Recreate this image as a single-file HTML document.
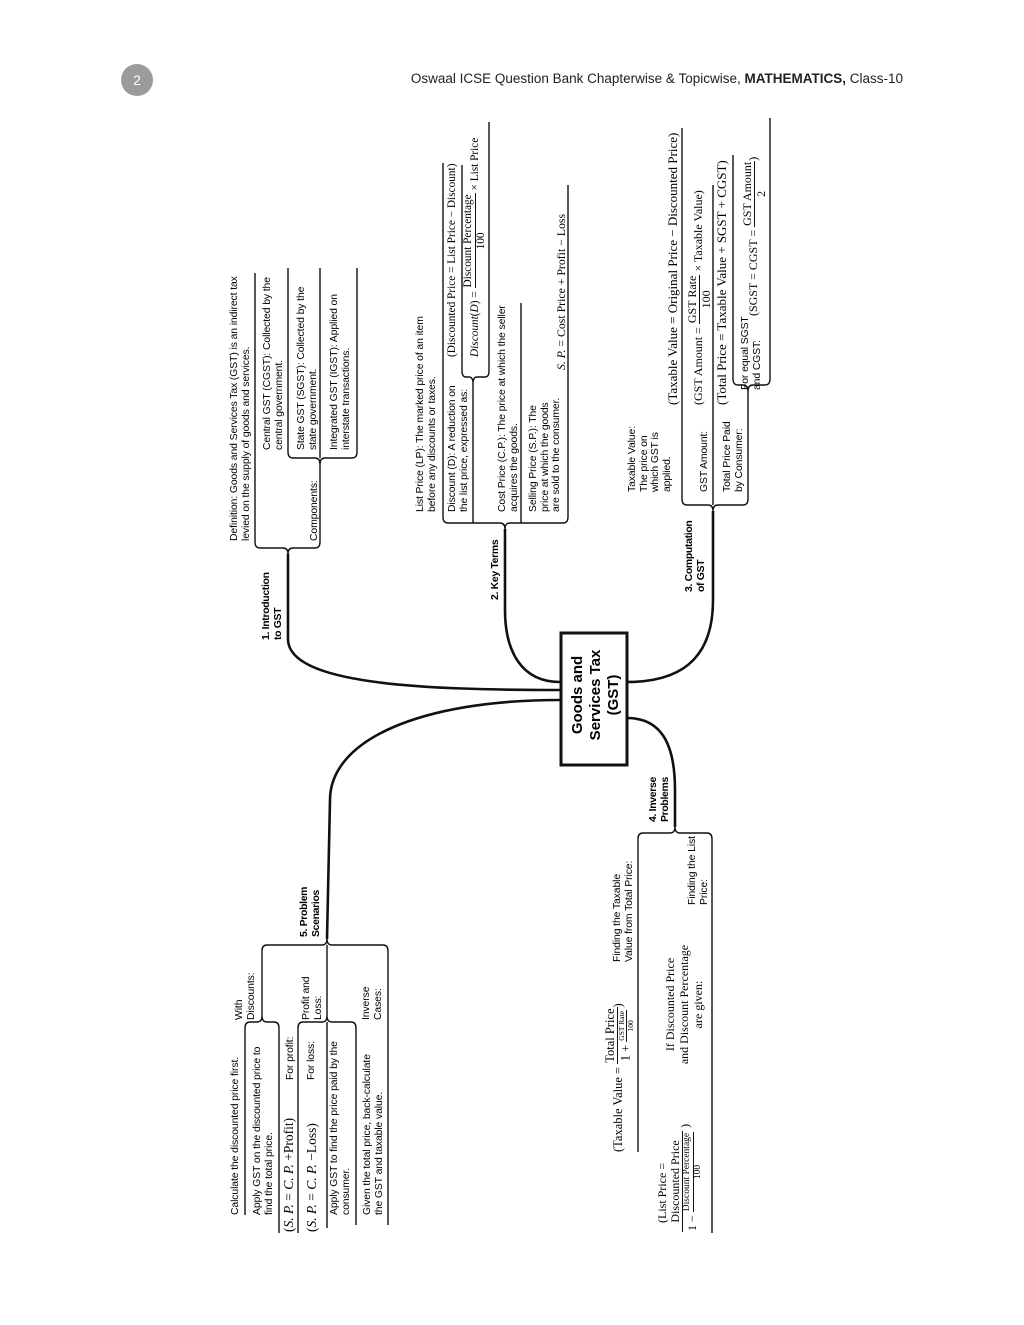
<!DOCTYPE html>
<html><head><meta charset="utf-8"><style>
body{margin:0;background:#fff;}
#pg{position:relative;width:1024px;height:1325px;overflow:hidden;background:#fff;font-family:"Liberation Sans",sans-serif;color:#000;}
.r{position:absolute;transform-origin:0 0;transform:rotate(-90deg);white-space:nowrap;font-size:10.4px;line-height:11.5px;letter-spacing:-0.1px;}
.b{font-weight:bold;font-size:10.4px;line-height:11.5px;letter-spacing:-0.3px;}
.s{font-family:"Liberation Serif",serif;letter-spacing:0;}
.fr{display:inline-block;vertical-align:middle;text-align:center;line-height:1.05;}
.fr>span{display:block;padding:0 1px;}
.fr>.n{border-bottom:1px solid #111;}
i{font-style:italic;}
</style></head><body><div id="pg">
<div style="position:absolute;left:121px;top:64px;width:32px;height:32px;border-radius:50%;background:#9b9b9b;color:#fff;font-size:14px;line-height:32px;text-align:center;">2</div>
<div style="position:absolute;right:121px;top:71px;font-size:13.5px;color:#222;white-space:nowrap;">Oswaal ICSE Question Bank Chapterwise &amp; Topicwise, <b>MATHEMATICS,</b> Class-10</div>

<svg width="1024" height="1325" style="position:absolute;left:0;top:0" fill="none" stroke="#111">
<g stroke-width="2.6">
<path d="M560,690 C420,690 290,684 288,640 L288,554"/>
<path d="M560,682 C522,682 505,652 505,610 L505,529"/>
<path d="M627,682 C690,682 713,650 713,600 L713,511"/>
<path d="M627,718 C660,718 675,742 675,790 L675,827"/>
<path d="M560,700 C420,700 330,740 330,800 L327,939"/>
</g>
<rect x="561" y="633" width="66" height="132" stroke-width="3"/>
<g stroke-width="1.4">
<path d="M255,542 Q255,548 260,548 L283,548 Q288,548 288,554 Q288,548 293,548 L315,548 Q320,548 320,542"/>
<path d="M255,542V273 M320,542V464"/>
<path d="M288,452 Q288,458 293,458 L315,458 Q320,458 320,464 Q320,458 325,458 L352,458 Q357,458 357,452"/>
<path d="M288,452V268 M320,458V268 M357,452V268"/>
<path d="M443,517 Q443,523 448,523 L500,523 Q505,523 505,529 Q505,523 510,523 L563,523 Q568,523 568,517"/>
<path d="M443,517V163 M473,523V383 M521,523V303 M568,517V185"/>
<path d="M462,371 Q462,377 466,377 L469,377 Q473,377 473,383 Q473,377 477,377 L485,377 Q489,377 489,371"/>
<path d="M462,371V165 M489,371V122"/>
<path d="M682,499 Q682,505 687,505 L708,505 Q713,505 713,511 Q713,505 718,505 L743,505 Q748,505 748,499"/>
<path d="M682,499V128 M713,505V185 M748,499V391"/>
<path d="M733,379 Q733,385 738,385 L743,385 Q748,385 748,391 Q748,385 753,385 L765,385 Q770,385 770,379"/>
<path d="M733,379V155 M770,379V118"/>
<path d="M638,839 Q638,833 643,833 L670,833 Q675,833 675,827 Q675,833 680,833 L707,833 Q712,833 712,839"/>
<path d="M638,839V1152 M712,839V1233"/>
<path d="M262,951 Q262,945 267,945 L322,945 Q327,945 327,939 Q327,945 332,945 L383,945 Q388,945 388,951"/>
<path d="M262,951V1016 M327,945V1016 M388,951V1225"/>
<path d="M245,1028 Q245,1022 250,1022 L257,1022 Q262,1022 262,1016 Q262,1022 267,1022 L274,1022 Q279,1022 279,1028"/>
<path d="M245,1028V1215 M279,1028V1233"/>
<path d="M298,1028 Q298,1022 303,1022 L322,1022 Q327,1022 327,1016 Q327,1022 332,1022 L351,1022 Q356,1022 356,1028"/>
<path d="M298,1028V1233 M327,1022V1228 M356,1028V1225"/>
</g>
</svg>

<div class="r b" style="left:569px;top:758px;width:126px;text-align:center;font-size:15px;line-height:18px;letter-spacing:0;">Goods and<br>Services Tax<br>(GST)</div>

<div class="r b" style="left:261px;top:640px;">1. Introduction<br>to GST</div>
<div class="r b" style="left:490px;top:600px;">2. Key Terms</div>
<div class="r b" style="left:684px;top:592px;">3. Computation<br>of GST</div>
<div class="r b" style="left:648px;top:822px;">4. Inverse<br>Problems</div>
<div class="r b" style="left:299px;top:937px;">5. Problem<br>Scenarios</div>

<div class="r" style="left:229px;top:541px;">Definition: Goods and Services Tax (GST) is an indirect tax<br>levied on the supply of goods and services.</div>
<div class="r" style="left:309px;top:541px;">Components:</div>
<div class="r" style="left:262px;top:450px;">Central GST (CGST): Collected by the<br>central government.</div>
<div class="r" style="left:296px;top:450px;">State GST (SGST): Collected by the<br>state government.</div>
<div class="r" style="left:329px;top:450px;">Integrated GST (IGST): Applied on<br>interstate transactions.</div>

<div class="r" style="left:415px;top:512px;">List Price (LP): The marked price of an item<br>before any discounts or taxes.</div>
<div class="r" style="left:447px;top:512px;">Discount (D): A reduction on<br>the list price, expressed as:</div>
<div class="r" style="left:497px;top:512px;">Cost Price (C.P.): The price at which the seller<br>acquires the goods.</div>
<div class="r" style="left:528px;top:512px;">Selling Price (S.P.): The<br>price at which the goods<br>are sold to the consumer.</div>
<div class="r s" style="left:447px;top:357px;font-size:11.3px;">(Discounted Price = List Price − Discount)</div>
<div class="r s" style="left:463px;top:357px;font-size:11.3px;line-height:25px;"><i>Discount</i>(<i>D</i>) = <span class="fr"><span class="n">Discount Percentage</span><span>100</span></span> × List Price</div>
<div class="r s" style="left:555px;top:370px;font-size:11.8px;line-height:13px;"><i>S. P.</i> = Cost Price + Profit − Loss</div>

<div class="r" style="left:627px;top:492px;">Taxable Value:<br>The price on<br>which GST is<br>applied.</div>
<div class="r" style="left:699px;top:492px;">GST Amount:</div>
<div class="r" style="left:722px;top:492px;">Total Price Paid<br>by Consumer:</div>
<div class="r" style="left:740px;top:390px;">For equal SGST<br>and CGST:</div>
<div class="r s" style="left:665px;top:405px;font-size:13px;line-height:15px;">(Taxable Value = Original Price − Discounted Price)</div>
<div class="r s" style="left:684px;top:405px;font-size:12px;line-height:28px;">(GST Amount = <span class="fr"><span class="n">GST Rate</span><span>100</span></span> × Taxable Value)</div>
<div class="r s" style="left:714px;top:405px;font-size:13px;line-height:15px;">(Total Price = Taxable Value + SGST + CGST)</div>
<div class="r s" style="left:739px;top:316px;font-size:12px;line-height:28px;">(SGST = CGST = <span class="fr"><span class="n">GST Amount</span><span>2</span></span>)</div>

<div class="r" style="left:612px;top:962px;">Finding the Taxable<br>Value from Total Price:</div>
<div class="r" style="left:687px;top:905px;">Finding the List<br>Price:</div>
<div class="r s" style="left:600px;top:1152px;font-size:12.5px;line-height:36px;">(Taxable Value = <span class="fr"><span class="n">Total Price</span><span>1 + <span class="fr" style="font-size:7.5px"><span class="n">GST Rate</span><span>100</span></span></span></span>)</div>
<div class="r s" style="left:663px;top:1072px;font-size:12px;line-height:14px;width:135px;text-align:center;">If Discounted Price<br>and Discount Percentage<br>are given:</div>
<div class="r s" style="left:655px;top:1232px;font-size:12px;line-height:14px;">&nbsp;&nbsp;&nbsp;(List Price =<br><span class="fr" style="line-height:1.05"><span class="n">Discounted Price</span><span>1 − <span class="fr" style="font-size:9.5px"><span class="n">Discount Percentage</span><span>100</span></span></span></span>&nbsp;)</div>

<div class="r" style="left:234px;top:1020px;">With<br>Discounts:</div>
<div class="r" style="left:230px;top:1215px;">Calculate the discounted price first.</div>
<div class="r" style="left:252px;top:1215px;">Apply GST on the discounted price to<br>find the total price.</div>
<div class="r" style="left:285px;top:1080px;">For profit:</div>
<div class="r s" style="left:281px;top:1232px;font-size:13.5px;line-height:16px;">(<i>S. P.</i> = <i>C. P.</i> +Profit)</div>
<div class="r" style="left:301px;top:1020px;">Profit and<br>Loss:</div>
<div class="r" style="left:306px;top:1080px;">For loss:</div>
<div class="r s" style="left:304px;top:1232px;font-size:13.5px;line-height:16px;">(<i>S. P.</i> = <i>C. P.</i> −Loss)</div>
<div class="r" style="left:329px;top:1215px;">Apply GST to find the price paid by the<br>consumer.</div>
<div class="r" style="left:361px;top:1020px;">Inverse<br>Cases:</div>
<div class="r" style="left:362px;top:1215px;">Given the total price, back-calculate<br>the GST and taxable value.</div>
</div></body></html>
